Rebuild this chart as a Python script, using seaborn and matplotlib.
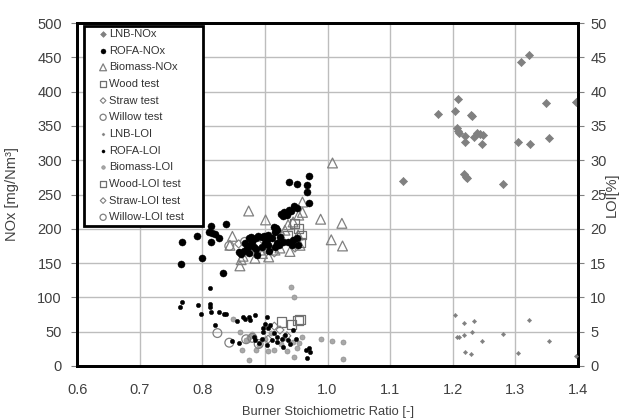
import numpy as np
import pandas as pd
import matplotlib
matplotlib.use("Agg")
import matplotlib.pyplot as plt
from matplotlib.patches import Rectangle
import seaborn as sns

# ---------------- data ----------------
lnb_nox_x = [1.309, 1.322, 1.350, 1.397, 1.176, 1.208, 1.204, 1.229, 1.231, 1.207, 1.209, 1.210,
             1.220, 1.219, 1.234, 1.239, 1.244, 1.248, 1.247, 1.305, 1.323, 1.354, 1.121, 1.218,
             1.221, 1.223, 1.280]
lnb_nox_y = [443, 453, 383, 385, 367, 389, 372, 366, 365, 347, 343, 339,
             335, 327, 334, 339, 338, 337, 324, 327, 323, 332, 270, 280,
             276, 274, 266]

rofa_nox_x = [0.768, 0.792, 0.766, 0.799, 0.813, 0.811, 0.816, 0.820, 0.814, 0.837, 0.833, 0.827,
              0.971, 0.939, 0.952, 0.968, 0.967, 0.971, 0.946, 0.951, 0.939, 0.942, 0.930, 0.926,
              0.929, 0.935,
              0.877, 0.874, 0.868, 0.879, 0.874, 0.872, 0.882, 0.885, 0.867, 0.858, 0.861, 0.875,
              0.887, 0.889, 0.886, 0.881, 0.896, 0.899, 0.905, 0.903, 0.900, 0.905, 0.895, 0.911,
              0.915, 0.918, 0.920, 0.916, 0.924, 0.929, 0.923, 0.920, 0.937, 0.943, 0.945, 0.952,
              0.953, 0.906, 0.916]
rofa_nox_y = [181, 190, 149, 158, 204, 195, 194, 193, 181, 207, 136, 186,
              277, 268, 266, 264, 253, 238, 233, 230, 228, 226, 225, 222,
              218, 220,
              188, 186, 179, 181, 175, 172, 174, 171, 167, 166, 163, 165,
              162, 190, 186, 185, 188, 190, 191, 184, 179, 176, 174, 186,
              202, 201, 198, 196, 188, 181, 176, 179, 181, 176, 184, 186,
              176, 167, 174]

bio_nox_x = [1.008, 0.960, 0.960, 0.989, 1.023, 1.006, 1.024, 0.874, 0.901, 0.848, 0.844, 0.862,
             0.860, 0.876, 0.896, 0.916, 0.932, 0.937, 0.954, 0.953, 0.956, 0.940, 0.924, 0.906,
             0.884, 0.892, 0.865, 0.945, 0.928]
bio_nox_y = [296, 239, 224, 214, 208, 184, 175, 226, 213, 189, 176, 155,
             146, 172, 164, 169, 198, 206, 220, 191, 176, 167, 172, 159,
             157, 169, 160, 210, 185]

wood_x = [0.954, 0.958, 0.957, 0.947, 0.936]
wood_y = [201, 191, 180, 208, 190]
straw_x = [0.858, 0.898, 0.925, 0.948, 0.915]
straw_y = [178, 182, 192, 172, 165]
willow_x = [0.843, 0.880, 0.905, 0.868]
willow_y = [175, 168, 170, 181]

lnb_loi_x = [1.204, 1.218, 1.234, 1.322, 1.207, 1.210, 1.218, 1.231, 1.280, 1.247, 1.354, 1.220,
             1.229, 1.304, 1.397]
lnb_loi_y = [7.4, 6.3, 6.5, 6.7, 4.2, 4.3, 4.5, 5.0, 4.7, 3.6, 3.7, 2.0,
             1.75, 1.9, 1.4]

rofa_loi_x = [0.767, 0.765, 0.793, 0.798, 0.812, 0.812, 0.812, 0.814, 0.827, 0.834, 0.837, 0.820,
              0.855, 0.865, 0.868, 0.874, 0.876, 0.884, 0.903, 0.900, 0.908, 0.945, 0.966, 0.971,
              0.972, 0.967, 0.847, 0.859, 0.882, 0.884, 0.895, 0.897, 0.905, 0.903, 0.911, 0.919,
              0.920, 0.927, 0.932, 0.937, 0.940, 0.929, 0.897, 0.890, 0.915, 0.950]
rofa_loi_y = [9.4, 8.6, 8.9, 7.6, 11.3, 9.1, 8.6, 7.9, 7.9, 7.6, 7.6, 6.0,
              6.6, 7.1, 6.8, 7.1, 6.7, 7.5, 7.1, 6.1, 6.0, 5.3, 2.3, 2.6,
              2.1, 1.1, 3.6, 3.4, 4.3, 3.8, 4.0, 5.5, 5.6, 3.1, 3.8, 4.3,
              3.5, 4.0, 4.5, 3.8, 3.2, 2.8, 5.0, 3.3, 4.8, 3.9]

bio_loi_x = [0.941, 0.946, 0.863, 0.875, 0.959, 0.951, 0.946, 0.989, 1.007, 1.024, 1.024, 0.849,
             0.870, 0.880, 0.890, 0.900, 0.910, 0.915, 0.925, 0.935, 0.930, 0.945, 0.905, 0.885,
             0.875, 0.955, 0.860]
bio_loi_y = [11.5, 10.1, 2.3, 0.9, 4.3, 2.6, 1.3, 4.0, 3.7, 3.45, 1.0, 6.9,
             3.8, 4.6, 3.0, 4.0, 4.8, 2.4, 3.2, 2.2, 4.1, 3.5, 2.2, 2.4,
             4.3, 3.3, 4.9]

wood_loi_x = [0.926, 0.942, 0.953, 0.956]
wood_loi_y = [6.4, 6.0, 6.6, 6.8]
straw_loi_x = [0.915, 0.924, 0.905, 0.935]
straw_loi_y = [5.8, 5.25, 3.9, 4.4]
willow_loi_x = [0.824, 0.843, 0.890, 0.870, 0.880]
willow_loi_y = [4.8, 3.4, 3.2, 3.9, 4.1]

x_ticks = [0.6, 0.7, 0.8, 0.9, 1.0, 1.1, 1.2, 1.3, 1.4]
nox_ticks = list(range(0, 501, 50))
loi_ticks = list(range(0, 51, 5))

# ---------------- style ----------------
sns.set_style("white")
plt.rcParams['font.family'] = ['Liberation Sans', 'DejaVu Sans']

fig = plt.figure(figsize=(6.28, 4.19), dpi=100)
ax = fig.add_axes([0.123, 0.1265, 0.797, 0.8185])
ax2 = ax.twinx()

GRAY = '#808080'

def sc(axis, x, y, label, marker, s, fc, ec, lw=0.8, z=3):
    sns.scatterplot(x=x, y=y, ax=axis, marker=marker, s=s, facecolor=fc,
                    edgecolor=ec, linewidth=lw, label=label, zorder=z, legend=False)

# NOx series (left)
sc(ax, lnb_nox_x, lnb_nox_y, 'LNB-NOx', 'D', 17, GRAY, GRAY, 0.5)
sc(ax, bio_nox_x, bio_nox_y, 'Biomass-NOx', '^', 50, 'none', GRAY, 0.9)
sc(ax, wood_x, wood_y, 'Wood test', 's', 40, 'none', '#707070', 0.9)
sc(ax, straw_x, straw_y, 'Straw test', 'D', 17, 'none', GRAY, 0.8)
sc(ax, willow_x, willow_y, 'Willow test', 'o', 40, 'none', GRAY, 0.9)
sc(ax, rofa_nox_x, rofa_nox_y, 'ROFA-NOx', 'o', 26, 'black', 'black', 0.3, 4)

# LOI series (right)
sc(ax2, bio_loi_x, bio_loi_y, 'Biomass-LOI', 'o', 13, '#a8a8a8', '#909090', 0.5)
sc(ax2, lnb_loi_x, lnb_loi_y, 'LNB-LOI', 'D', 5, GRAY, GRAY, 0.3)
sc(ax2, wood_loi_x, wood_loi_y, 'Wood-LOI test', 's', 44, 'none', '#707070', 0.9)
sc(ax2, straw_loi_x, straw_loi_y, 'Straw-LOI test', 'D', 17, 'none', GRAY, 0.8)
sc(ax2, willow_loi_x, willow_loi_y, 'Willow-LOI test', 'o', 40, 'none', GRAY, 0.9)
sc(ax2, rofa_loi_x, rofa_loi_y, 'ROFA-LOI', 'o', 10, 'black', 'black', 0.3, 4)

# axes
ax.set_xlim(0.6, 1.4)
ax.set_ylim(0, 500)
ax2.set_ylim(0, 50)
ax.set_xticks(x_ticks)
ax.set_xticklabels([f"{v:.1f}" for v in x_ticks])
ax.set_yticks(nox_ticks)
ax2.set_yticks(loi_ticks)

ax.grid(True, color='#bdbdbd', linewidth=1.0, zorder=0)
ax.set_axisbelow(True)
ax2.grid(False)

for a in (ax, ax2):
    for sp in a.spines.values():
        sp.set_visible(True)
        sp.set_color('black')
        sp.set_linewidth(2.0)
    a.tick_params(direction='out', length=4, width=0.8, color=GRAY,
                  labelsize=10.5, labelcolor='#404040')
ax.tick_params(axis='y', pad=7)
ax2.tick_params(axis='y', pad=5)
ax.tick_params(axis='x', pad=8)

ax.set_xlabel('Burner Stoichiometric Ratio [-]', fontsize=9.3, color='#404040', labelpad=7)
ax.set_ylabel('NOx [mg/Nm³]', fontsize=10.5, color='#404040', labelpad=13)
ax2.set_ylabel('LOI[%]', fontsize=10.5, color='#404040', labelpad=-1)

# legend frame (white box with thick black border) and entries
frame = Rectangle((0.014, 0.408), 0.237, 0.583, transform=ax2.transAxes,
                  facecolor='white', edgecolor='black', linewidth=2.0, zorder=5)
ax2.add_patch(frame)

order = ['LNB-NOx', 'ROFA-NOx', 'Biomass-NOx', 'Wood test', 'Straw test', 'Willow test',
         'LNB-LOI', 'ROFA-LOI', 'Biomass-LOI', 'Wood-LOI test', 'Straw-LOI test', 'Willow-LOI test']
h1, l1 = ax.get_legend_handles_labels()
h2, l2 = ax2.get_legend_handles_labels()
hmap = dict(zip(l1 + l2, h1 + h2))
leg = ax2.legend([hmap[k] for k in order], order, loc='upper left',
                 bbox_to_anchor=(0.045, 0.983), borderaxespad=0, borderpad=0,
                 fontsize=8, labelspacing=0.6, handlelength=0.6, handletextpad=0.25,
                 markerscale=0.7, frameon=False)
leg.set_zorder(6)
for t in leg.get_texts():
    t.set_color('#333333')

fig.savefig('out.png', dpi=100)
